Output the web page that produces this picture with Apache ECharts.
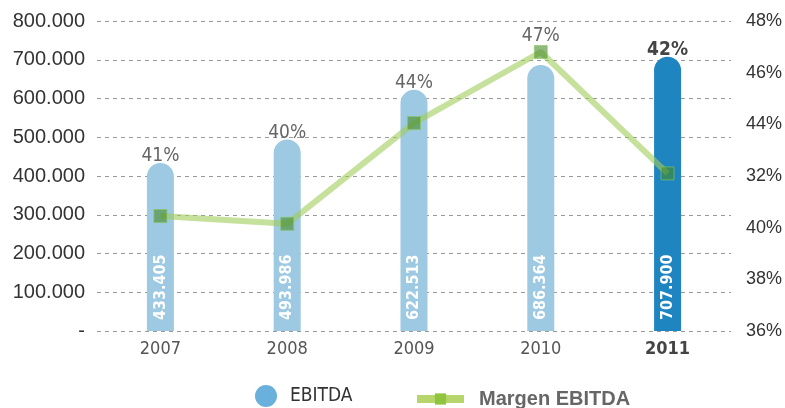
<!DOCTYPE html>
<html>
<head>
<meta charset="utf-8">
<script src="https://cdn.jsdelivr.net/npm/echarts@6/dist/echarts.min.js"></script>
<style>
  html, body { margin: 0; padding: 0; background: #fff; }
  #chart { width: 785px; height: 408px; }
</style>
</head>
<body>
<div id="chart"></div>
<script>
// datos del gráfico
const years = ['2007', '2008', '2009', '2010', '2011'];
const ebitda = [433405, 493986, 622513, 686364, 707900];
const margen = [40.45, 40.15, 44.05, 46.8, 42.1];
const margenLabels = ['41%', '40%', '44%', '47%', '42%'];
const rightTicks = ['36%', '38%', '40%', '32%', '44%', '46%', '48%']; // tal cual el original

const NARROW = "'Liberation Sans Narrow', 'DejaVu Sans Condensed', sans-serif";
const SANS = "'Liberation Sans', Arial, sans-serif";
const lastIdx = years.length - 1;

// formato con punto de miles
function fmtMiles(v) {
    if (v === 0) return '-';
    return String(v).replace(/\B(?=(\d{3})+(?!\d))/g, '.');
}

const chart = echarts.init(document.getElementById('chart'));

const barData = ebitda.map((v, i) => ({
    value: v,
    itemStyle: { color: i === lastIdx ? '#1f85c0' : '#9dc9e2' }
}));

const pctData = ebitda.map((v, i) => {
    const item = { value: v };
    if (i === 3) item.label = { distance: 19 };
    if (i === lastIdx) item.label = { fontWeight: 'bold', color: '#444' };
    return item;
});

const option = {
    animation: false,
    grid: { left: 97, right: 53, top: 21, bottom: 77 },
    legend: [
        {
            data: ['EBITDA'],
            left: 250, top: 380,
            icon: 'circle',
            itemWidth: 22, itemHeight: 22,
            textStyle: { fontFamily: NARROW, fontSize: 19, color: '#333', padding: [0, 0, 0, 8] }
        },
        {
            data: ['Margen EBITDA'],
            left: 408, top: 384,
            itemWidth: 47, itemHeight: 14,
            lineStyle: { color: '#b6d66c', width: 8 },
            itemStyle: { color: '#8fc43f', borderWidth: 0 },
            textStyle: { fontFamily: SANS, fontSize: 20, fontWeight: 'bold', color: '#666', padding: [0, 0, 0, 10] }
        }
    ],
    xAxis: {
        type: 'category',
        data: years,
        axisLine: { show: false },
        axisTick: { show: false },
        axisLabel: {
            margin: 9,
            fontFamily: NARROW, fontSize: 18, color: '#555',
            formatter: (v, i) => i === lastIdx ? '{b|' + v + '}' : v,
            rich: { b: { fontFamily: NARROW, fontSize: 18, fontWeight: 'bold', color: '#444' } }
        }
    },
    yAxis: [
        {
            type: 'value', min: 0, max: 800000, interval: 100000,
            axisLine: { show: false }, axisTick: { show: false },
            splitLine: { lineStyle: { color: '#999', type: [4, 4], width: 1 } },
            axisLabel: {
                margin: 12,
                fontFamily: SANS, fontSize: 20, color: '#333',
                formatter: fmtMiles
            }
        },
        {
            type: 'value', min: 36, max: 48, interval: 2,
            axisLine: { show: false }, axisTick: { show: false },
            splitLine: { show: false },
            axisLabel: {
                margin: 15,
                fontFamily: SANS, fontSize: 18, color: '#333',
                formatter: (v) => rightTicks[Math.round((v - 36) / 2)]
            }
        }
    ],
    series: [
        {
            name: 'EBITDA',
            type: 'bar',
            barWidth: 27,
            barGap: '-100%',
            itemStyle: { color: '#6ab0dc', borderRadius: [14, 14, 0, 0] },
            data: barData,
            label: {
                show: true,
                position: 'insideBottom',
                rotate: 90,
                align: 'left',
                verticalAlign: 'middle',
                distance: 11,
                fontFamily: NARROW, fontSize: 16, fontWeight: 'bold', color: '#fff',
                formatter: (p) => fmtMiles(p.value)
            }
        },
        {
            // solo para las etiquetas de porcentaje encima de cada barra
            name: 'pct',
            type: 'bar',
            barWidth: 27,
            silent: true,
            itemStyle: { color: 'rgba(0,0,0,0)' },
            data: pctData,
            label: {
                show: true,
                position: 'top',
                distance: -3,
                fontFamily: NARROW, fontSize: 19, color: '#666',
                formatter: (p) => margenLabels[p.dataIndex]
            }
        },
        {
            name: 'Margen EBITDA',
            type: 'line',
            yAxisIndex: 1,
            data: margen,
            symbol: 'rect',
            symbolSize: 13,
            lineStyle: { color: 'rgba(160,205,90,0.6)', width: 6 },
            itemStyle: { color: 'rgba(70,140,40,0.6)', borderColor: 'rgba(140,200,90,0.6)', borderWidth: 1 },
            z: 5
        }
    ]
};

chart.setOption(option);
</script>
</body>
</html>
